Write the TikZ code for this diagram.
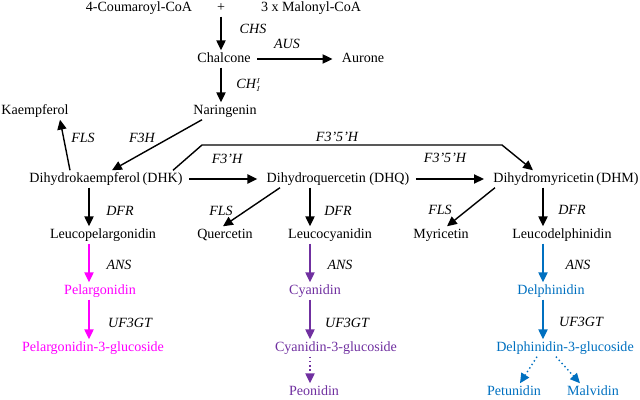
\documentclass[tikz,border=0pt]{standalone}
\usepackage{fontspec}
\setmainfont{Liberation Serif}
\usetikzlibrary{arrows.meta}

\definecolor{pelpink}{RGB}{255,0,255}
\definecolor{cyapurple}{RGB}{112,48,160}
\definecolor{delblue}{RGB}{0,112,192}

\begin{document}
\begin{tikzpicture}[x=0.025cm,y=-0.025cm,
    cmpd/.style={inner sep=1.5pt,text height=7pt,text depth=2pt},
    enz/.style={font=\itshape},
    arr/.style={-{Triangle[length=7pt,width=6.5pt]},line width=1pt},
    side/.style={shorten <=3pt,shorten >=5pt}]
%    \draw[orange,thin] (0,0) grid[step=20] (640,400);
    \useasboundingbox (0,0) rectangle (640,400);

    % precursors
    \node[cmpd] (coum) at (139,8)   {4-Coumaroyl-CoA};
    \node[cmpd] (plus) at (221,8)   {+};
    \node[cmpd] (malo) at (311,8)   {3 x Malonyl-CoA};
    \node[cmpd] (chal) at (224,59)  {Chalcone};
    \node[cmpd] (aur)  at (363,59)  {Aurone};
    \node[cmpd] (nar)  at (225,111) {Naringenin};
    \node[cmpd] (kae)  at (35,111)  {Kaempferol};

    % dihydroflavonols
    \node[cmpd] (dhk) at (106,179) {Dihydrokaempferol\,(DHK)};
    \node[cmpd] (dhq) at (338,179) {Dihydroquercetin (DHQ)};
    \node[cmpd] (dhm) at (566,179) {Dihydromyricetin\,(DHM)};

    \node[cmpd] (lpel) at (103,235) {Leucopelargonidin};
    \node[cmpd] (quer) at (225,235) {Quercetin};
    \node[cmpd] (lcya) at (330,235) {Leucocyanidin};
    \node[cmpd] (myr)  at (441,235) {Myricetin};
    \node[cmpd] (ldel) at (562,235) {Leucodelphinidin};

    % anthocyanins
    \node[cmpd,pelpink]   (pel)  at (100,291) {Pelargonidin};
    \node[cmpd,pelpink]   (pel3) at (93,348)  {Pelargonidin-3-glucoside};
    \node[cmpd,cyapurple] (cya)  at (315,291) {Cyanidin};
    \node[cmpd,cyapurple] (cya3) at (336,348) {Cyanidin-3-glucoside};
    \node[cmpd,cyapurple] (peo)  at (314,392) {Peonidin};
    \node[cmpd,delblue]   (del)  at (551,291) {Delphinidin};
    \node[cmpd,delblue]   (del3) at (565,348) {Delphinidin-3-glucoside};
    \node[cmpd,delblue]   (pet)  at (514,392) {Petunidin};
    \node[cmpd,delblue]   (mal)  at (593,392) {Malvidin};

    % enzymes
    \node[enz] (chs)   at (253,29)  {CHS};
    \node[enz] (aus)   at (287,44)  {AUS};
    \node[enz] (chi)   at (249,85)  {CH$^{\scriptscriptstyle I}_{\scriptscriptstyle I}$};
    \node[enz] (fth)   at (142,138) {F3H};
    \node[enz] (flsa)  at (83,138)  {FLS};
    \node[enz] (ftfha) at (337,137) {F3'5'H};
    \node[enz] (fthp)  at (227,159) {F3'H};
    \node[enz] (ftfhb) at (445,158) {F3'5'H};
    \node[enz] (dfra)  at (120,211) {DFR};
    \node[enz] (flsb)  at (221,211) {FLS};
    \node[enz] (dfrb)  at (338,211) {DFR};
    \node[enz] (flsc)  at (440,210) {FLS};
    \node[enz] (dfrc)  at (572,210) {DFR};
    \node[enz] (ansa)  at (119,265) {ANS};
    \node[enz] (ansb)  at (340,265) {ANS};
    \node[enz] (ansc)  at (578,265) {ANS};
    \node[enz] (ugta)  at (130,323) {UF3GT};
    \node[enz] (ugtb)  at (347,323) {UF3GT};
    \node[enz] (ugtc)  at (581,322) {UF3GT};

    % black steps
    \draw[arr] (plus.south) -- (plus.south |- chal.north);
    \draw[arr,side] (chal.east) -- (aur.west);
    \draw[arr] (chal.south -| plus) -- (nar.north -| plus);
    \draw[arr] (nar.south -| 202,0) -- (dhk.north -| 112,0);
    \draw[arr] (dhk.north -| 70,0) -- (kae.south -| 60,0);

    \coordinate (bend1) at (202,145);
    \coordinate (bend2) at (502,145);
    \draw[arr] (dhk.north -| 173,0) -- (bend1) -- (bend2) -- (dhm.north -| 533,0);
    \draw[arr,side] (dhk.east) -- (dhq.west);
    \draw[arr,side] (dhq.east) -- (dhm.west);

    \draw[arr] (dhk.south -| 89,0) -- (lpel.north -| 89,0);
    \draw[arr] (dhq.south -| 280,0) -- (quer.north -| 223,0);
    \draw[arr] (dhq.south -| 310,0) -- (lcya.north -| 310,0);
    \draw[arr] (dhm.south -| 495,0) -- (myr.north -| 447,0);
    \draw[arr] (dhm.south -| 543,0) -- (ldel.north -| 543,0);

    % coloured steps
    \draw[arr,pelpink] (lpel.south -| 89,0) -- (pel.north -| 89,0);
    \draw[arr,pelpink] (pel.south -| 89,0) -- (pel3.north -| 89,0);
    \draw[arr,cyapurple] (lcya.south -| 310,0) -- (cya.north -| 310,0);
    \draw[arr,cyapurple] (cya.south -| 310,0) -- (cya3.north -| 310,0);
    \draw[arr,cyapurple,dotted] (cya3.south -| 310,0) -- (peo.north -| 310,0);
    \draw[arr,delblue] (ldel.south -| 543,0) -- (del.north -| 543,0);
    \draw[arr,delblue] (del.south -| 543,0) -- (del3.north -| 543,0);
    \draw[arr,delblue,dotted] (del3.south -| 537,0) -- (pet.north -| 520,0);
    \draw[arr,delblue,dotted] (del3.south -| 556,0) -- (mal.north -| 580,0);

\end{tikzpicture}
\end{document}
